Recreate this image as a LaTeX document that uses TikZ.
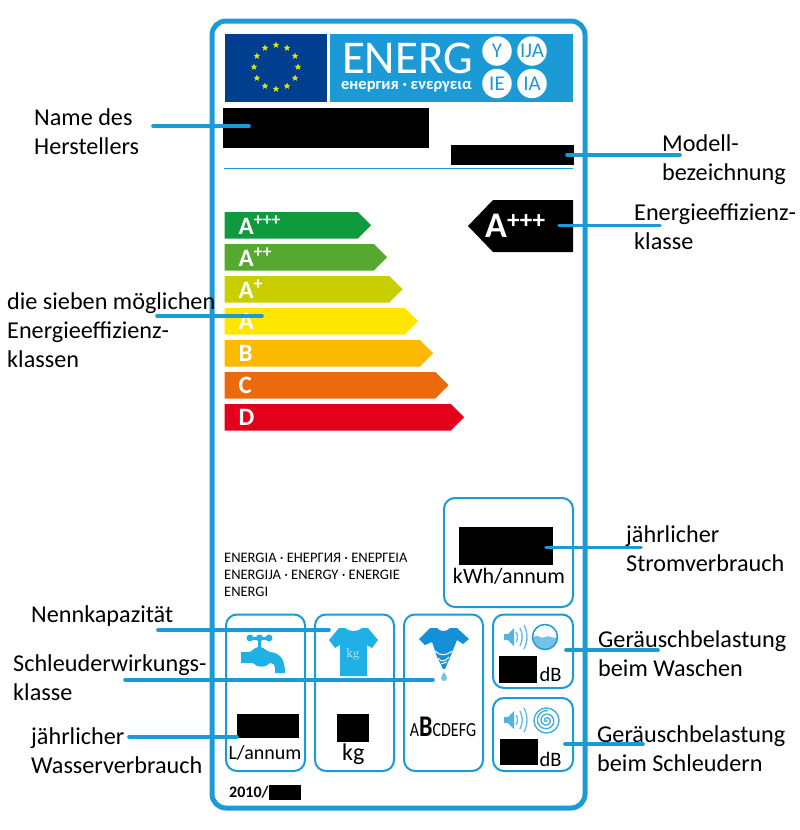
\documentclass[tikz,border=0pt]{standalone}
\usepackage{fontspec}
\setmainfont{Carlito}
\usepackage{tikz}
\usetikzlibrary{positioning,shapes.geometric}
\definecolor{labelblue}{HTML}{1B9AD6}
\definecolor{shirtblue}{HTML}{1FB0E6}
\definecolor{drillblue}{HTML}{1490D8}
\definecolor{flagblue}{HTML}{003F8F}
\tikzstyle{caption}=[font=\fontsize{24.2}{29}\selectfont,align=left,inner sep=0pt,anchor=north west]
\tikzstyle{pointer}=[draw=labelblue,line width=3.6pt,line cap=round]
\tikzstyle{panel}=[draw=labelblue,line width=2pt,rounded corners=11pt,fill=white]
\tikzstyle{blackout}=[fill=black,inner sep=0pt,anchor=north west]
\tikzstyle{unit}=[font=\fontsize{22}{24}\selectfont,inner sep=0pt]
\tikzstyle{eustar}=[star,star points=5,star point ratio=2.3,fill=yellow!85!green,inner sep=0pt,minimum size=7pt]
\tikzstyle{badge}=[circle,fill=white,text=labelblue,inner sep=0pt,minimum size=29.5pt,font=\fontsize{21}{21}\selectfont]
\tikzstyle{barlabel}=[text=white,inner sep=0pt,anchor=west,font=\fontsize{25}{25}\bfseries\selectfont]
\begin{document}
\begin{tikzpicture}[x=1pt,y=-1pt]
        \useasboundingbox (0,0) rectangle (800,830);
        \draw[draw=labelblue,line width=5pt,rounded corners=14pt] (212,21) rectangle (585,808);

        \fill[flagblue] (225,34) rectangle (327,102);
        \coordinate (flagcenter) at (276,67);
        \foreach \a in {0,30,...,330}
            \node[eustar] (star\a) at ([shift={(\a:22pt)}]flagcenter) {};
        \fill[labelblue] (330,34) rectangle (573,102);
        \node[text=white,inner sep=0pt,font=\fontsize{47}{47}\selectfont] (energ) at (407.5,58) {ENERG};
        \node[text=white,inner sep=0pt,font=\fontsize{16.5}{17}\bfseries\selectfont] (energsub) at (406.5,87) {енергия · ενεργεια};
        \node[badge] (badgey) at (497,51) {Y};
        \node[badge] (badgeija) at (532,51) {IJA};
        \node[badge] (badgeie) at (497,83.5) {IE};
        \node[badge] (badgeia) at (532,83.5) {IA};

        \node[blackout,minimum width=206pt,minimum height=40pt] (nameblock) at (223,108) {};
        \node[blackout,minimum width=123pt,minimum height=20pt] (modelblock) at (451,145) {};
        \draw[labelblue,line width=1pt] (224,168.5) -- (573,168.5);

        \foreach \name/\top/\tip/\col/\txt in {
                appp/212/371/0F9A3E/A\textsuperscript{+++},
                app/244/387/55A92F/A\textsuperscript{++},
                ap/276/402.5/C8CE00/A\textsuperscript{+},
                a/308/418/FFE600/A,
                b/340/433/FDB900/B,
                c/372/448.5/EB6A0E/C,
                d/404/464/E2001A/D}
        {
            \definecolor{barcolor}{HTML}{\col}
            \fill[barcolor] (224.5,\top) -- (\tip-13,\top) -- (\tip,\top+13.25) -- (\tip-13,\top+26.5) -- (224.5,\top+26.5) -- cycle;
            \node[barlabel] (bar\name) at (238.5,\top+13.5) {\txt};
        }

        \fill (468,226) -- (493,200) -- (573,200) -- (573,252) -- (493,252) -- cycle;
        \node[text=white,inner sep=0pt,anchor=west,font=\fontsize{36}{36}\bfseries\selectfont] (classtext) at (485,226) {A\textsuperscript{+++}};

        \draw[panel] (444,498) rectangle (573,607);
        \node[blackout,minimum width=94pt,minimum height=38pt] (powerblock) at (459,527) {};
        \node[unit] (powerunit) at (509,576) {kWh/annum};

        \node[inner sep=0pt,anchor=north west,align=left,font=\fontsize{14.5}{17}\selectfont] (langs) at (224,553)
            {ENERGIA · ЕНЕРГИЯ · ΕΝΕΡΓΕΙΑ\\ENERGIJA · ENERGY · ENERGIE\\ENERGI};

        \draw[panel] (226,614.5) rectangle (305,771);
        \draw[panel] (315,614.5) rectangle (394,771);
        \draw[panel] (404,614.5) rectangle (483,771);
        \draw[panel] (493,614.5) rectangle (573,688);
        \draw[panel] (493,698) rectangle (573,771);

        \fill[shirtblue] (241,652) -- (249,652) .. controls (252,652) and (254,647) .. (259,647) .. controls (264,647) and (266,651) .. (270,652) .. controls (280,653) and (285,659) .. (285,673) -- (275,673) -- (275,667) .. controls (275,664) and (272,663) .. (270,663) .. controls (266,668) and (257,668) .. (253,663) -- (241,663) -- cycle;
        \draw[shirtblue,line width=3pt] (250,638) -- (269,638) (259.5,638) -- (259.5,648);
        \fill[shirtblue] (250,638) circle (3.5pt) (269,638) circle (3.5pt) (259.5,638) circle (3.5pt);

        \fill[shirtblue] (345,628) .. controls (349,632) and (358,632) .. (362,628) -- (368,628) -- (378,640) -- (372,648) -- (367,645) -- (367,676) -- (340,676) -- (340,645) -- (335,648) -- (329,640) -- (339,628) -- cycle;
        \node[text=white!85!shirtblue,inner sep=0pt,font=\fontsize{13}{13}\fontfamily{lmr}\selectfont] (shirtkg) at (353,654) {kg};

        \fill[drillblue] (419,639) -- (430,628) -- (437,628) .. controls (440,632) and (447,632) .. (450,628) -- (457,628) -- (469,639) -- (463,644) -- (457,640) -- (451,655) -- (445,669) -- (443,669) -- (437,657) -- (432,642) -- (425,645) -- cycle;
        \draw[white,line width=1pt] (435,651) .. controls (440,656) and (446,656) .. (452,651) (438,658) .. controls (441,662) and (445,662) .. (449,657) (441,664) -- (447,662);
        \fill[labelblue!60!white] (444,672) .. controls (445,675) and (447,676) .. (447,678) arc[start angle=0,end angle=-180,radius=3pt] .. controls (441,676) and (443,675) .. (444,672) -- cycle;

        \node[inner sep=0pt,font=\fontsize{20}{20}\selectfont] (spinclass) at (443,727)
            {\scalebox{.8}[1]{A{\fontsize{30}{30}\bfseries\selectfont B}CDEFG}};

        \node[blackout,minimum width=62pt,minimum height=24pt] (waterblock) at (237,714) {};
        \node[unit,font=\fontsize{20}{22}\selectfont] (waterunit) at (265,753) {L/annum};
        \node[blackout,minimum width=32pt,minimum height=28pt] (capblock) at (337,714) {};
        \node[unit,font=\fontsize{24}{24}\selectfont,below=1pt of capblock] (capunit) {kg};

        \node[blackout,minimum width=38pt,minimum height=27pt] (washblock) at (499,656) {};
        \node[unit,font=\fontsize{20.5}{22}\selectfont,anchor=south west] (washunit) at (539.5,682) {dB};
        \node[blackout,minimum width=38pt,minimum height=26pt] (spinblock) at (500,739) {};
        \node[unit,font=\fontsize{20.5}{22}\selectfont,anchor=south west] (spinunit) at (539.5,767) {dB};

        \foreach \y in {637,720}
        {
            \fill[labelblue!75!white] (504,\y-3) -- (508,\y-3) -- (514,\y-9) -- (514,\y+9) -- (508,\y+3) -- (504,\y+3) -- cycle;
            \draw[labelblue!65!white,line width=1.4pt] (516,\y-5) .. controls (518,\y-2) and (518,\y+2) .. (516,\y+5);
            \draw[labelblue!65!white,line width=1.4pt] (520,\y-9) .. controls (523,\y-3) and (523,\y+3) .. (520,\y+9);
            \draw[labelblue!65!white,line width=1.4pt] (524,\y-12) .. controls (528,\y-4) and (528,\y+4) .. (524,\y+12);
        }
        \fill[labelblue!60!white] (533,637) .. controls (538,633) and (541,640) .. (545,637) .. controls (549,634) and (553,640) .. (557,637) arc[start angle=0,end angle=-180,radius=12pt] -- cycle;
        \draw[labelblue,line width=1.5pt] (545,637) circle (12.5pt);
        \draw[labelblue!80!white,line width=1.4pt] (546.5,720.5) circle (12.5pt);
        \draw[labelblue!80!white,line width=1.4pt] plot[domain=0:1000,samples=90,smooth,variable=\t] ({546.5+\t/1000*10*cos(\t)},{720.5+\t/1000*10*sin(\t)});

        \node[inner sep=0pt,anchor=west,font=\fontsize{16}{16}\bfseries\selectfont] (regnumber) at (229,792) {2010/};
        \node[blackout,minimum width=32pt,minimum height=15pt] (regblock) at (269,785) {};

        \node[caption] (herstellers) at (34,108) {Name des\\Herstellers};
        \node[caption] (modell) at (662,134) {Modell-\\bezeichnung};
        \node[caption] (effizienz) at (634,204) {Energieeffizienz-\\klasse};
        \node[caption] (sieben) at (7,292) {die sieben möglichen\\Energieeffizienz-\\klassen};
        \node[caption] (strom) at (626,525) {jährlicher\\Stromverbrauch};
        \node[caption] (nenn) at (31,605) {Nennkapazität};
        \node[caption] (schleuder) at (13,654) {Schleuderwirkungs-\\klasse};
        \node[caption] (wasser) at (31,727) {jährlicher\\Wasserverbrauch};
        \node[caption] (waschen) at (598,630) {Geräuschbelastung\\beim Waschen};
        \node[caption] (schleudern) at (597,725) {Geräuschbelastung\\beim Schleudern};

        \coordinate (herstellerstart) at (153,126);
        \coordinate (herstellerend) at (249,126);
        \coordinate (modellstart) at (680,155);
        \coordinate (modellend) at (567,155);
        \coordinate (effizienzstart) at (660,225.5);
        \coordinate (effizienzend) at (559,225.5);
        \coordinate (siebenstart) at (157,316);
        \coordinate (siebenend) at (262,316);
        \coordinate (stromstart) at (641,547.5);
        \coordinate (stromend) at (546,547.5);
        \coordinate (nennstart) at (158,630);
        \coordinate (nennend) at (329,630);
        \coordinate (schleuderstart) at (125,680);
        \coordinate (schleuderend) at (433,680);
        \coordinate (wasserstart) at (129,737);
        \coordinate (waschenstart) at (658,650);
        \coordinate (waschenend) at (566,650);
        \coordinate (schleudernstart) at (643,744);
        \coordinate (schleudernend) at (565,744);

        \draw[pointer] (herstellerstart) -- (herstellerend);
        \draw[pointer] (modellstart) -- (modellend);
        \draw[pointer] (effizienzstart) -- (effizienzend);
        \draw[pointer] (siebenstart) -- (siebenend);
        \draw[pointer] (stromstart) -- (stromend);
        \draw[pointer] (nennstart) -- (nennend);
        \draw[pointer] (schleuderstart) -- (schleuderend);
        \draw[pointer] (wasserstart) -- (wasserstart -| waterblock.west);
        \draw[pointer] (waschenstart) -- (waschenend);
        \draw[pointer] (schleudernstart) -- (schleudernend);
\end{tikzpicture}
\end{document}
